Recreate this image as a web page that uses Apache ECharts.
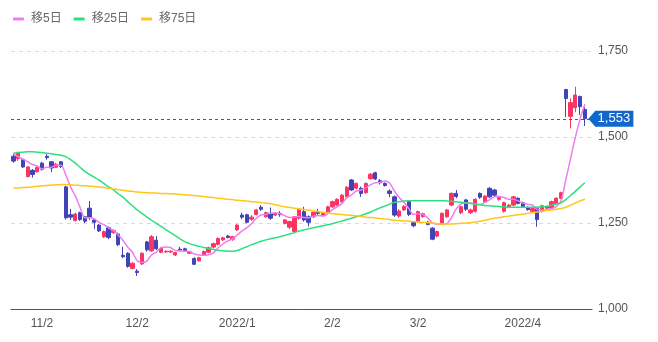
<!DOCTYPE html>
<html>
<head>
<meta charset="utf-8">
<script src="https://cdn.jsdelivr.net/npm/echarts@6.0.0/dist/echarts.min.js"></script>
<style>
  html, body { margin: 0; padding: 0; background: #fff; }
  #chart { width: 658px; height: 342px; }
</style>
</head>
<body>
<div id="chart"></div>
<script>
// Trading days shown on the chart
const dates = [
  '2021/10/25','2021/10/26','2021/10/27','2021/10/28','2021/10/29','2021/11/1','2021/11/2','2021/11/4','2021/11/5','2021/11/8',
  '2021/11/9','2021/11/10','2021/11/11','2021/11/12','2021/11/15','2021/11/16','2021/11/17','2021/11/18','2021/11/19','2021/11/22',
  '2021/11/24','2021/11/25','2021/11/26','2021/11/29','2021/11/30','2021/12/1','2021/12/2','2021/12/3','2021/12/6','2021/12/7',
  '2021/12/8','2021/12/9','2021/12/10','2021/12/13','2021/12/14','2021/12/15','2021/12/16','2021/12/17','2021/12/20','2021/12/21',
  '2021/12/22','2021/12/23','2021/12/24','2021/12/27','2021/12/28','2021/12/29','2021/12/30','2022/1/4','2022/1/5','2022/1/6',
  '2022/1/7','2022/1/11','2022/1/12','2022/1/13','2022/1/14','2022/1/17','2022/1/18','2022/1/19','2022/1/20','2022/1/21',
  '2022/1/24','2022/1/25','2022/1/26','2022/1/27','2022/1/28','2022/1/31','2022/2/1','2022/2/2','2022/2/3','2022/2/4',
  '2022/2/7','2022/2/8','2022/2/9','2022/2/10','2022/2/14','2022/2/15','2022/2/16','2022/2/17','2022/2/18','2022/2/21',
  '2022/2/22','2022/2/24','2022/2/25','2022/2/28','2022/3/1','2022/3/2','2022/3/3','2022/3/4','2022/3/7','2022/3/8',
  '2022/3/9','2022/3/10','2022/3/11','2022/3/14','2022/3/15','2022/3/16','2022/3/17','2022/3/18','2022/3/21','2022/3/22',
  '2022/3/23','2022/3/24','2022/3/25','2022/3/28','2022/3/29','2022/3/30','2022/3/31','2022/4/1','2022/4/4','2022/4/5',
  '2022/4/6','2022/4/7','2022/4/8','2022/4/11','2022/4/12','2022/4/13','2022/4/14','2022/4/15','2022/4/18','2022/4/19',
  '2022/4/20'
];

const openPrices = [
  1444,1437,1434,1385,1403,1399,1424,1444,1428,1412,
  1428,1355,1274,1257,1280,1268,1293,1259,1244,1210,
  1236,1222,1218,1156,1162,1118,1110,1131,1195,1169,
  1200,1165,1166,1166,1157,1174,1175,1162,1147,1140,
  1157,1165,1180,1188,1201,1212,1203,1230,1273,1274,
  1261,1275,1296,1268,1278,1273,1278,1249,1238,1225,
  1264,1283,1268,1268,1283,1273,1280,1297,1302,1312,
  1326,1375,1351,1351,1338,1379,1396,1373,1365,1343,
  1326,1270,1288,1312,1251,1255,1269,1252,1235,1212,
  1249,1268,1302,1336,1280,1317,1280,1284,1336,1312,
  1351,1346,1319,1284,1297,1302,1322,1309,1295,1284,
  1293,1284,1293,1293,1307,1322,1638,1560,1585,1618,
  1580
];

const closePrices = [
  1430,1452,1413,1413,1391,1411,1406,1440,1410,1421,
  1414,1265,1267,1276,1260,1255,1267,1252,1227,1225,
  1208,1228,1187,1152,1124,1133,1106,1162,1172,1210,
  1175,1176,1168,1168,1164,1170,1169,1166,1130,1149,
  1167,1178,1190,1205,1207,1208,1210,1244,1267,1252,
  1267,1288,1290,1280,1264,1278,1274,1259,1254,1268,
  1290,1259,1252,1281,1278,1278,1297,1312,1319,1331,
  1354,1346,1365,1336,1365,1392,1378,1367,1359,1336,
  1273,1285,1298,1275,1242,1283,1277,1246,1203,1225,
  1278,1288,1336,1327,1297,1290,1288,1319,1325,1328,
  1326,1331,1325,1309,1302,1326,1307,1298,1289,1292,
  1260,1300,1297,1312,1322,1338,1612,1600,1622,1588,
  1553
];

const lowPrices = [
  1425,1431,1410,1382,1382,1396,1402,1434,1398,1410,
  1410,1260,1259,1254,1256,1250,1259,1233,1224,1206,
  1203,1218,1183,1148,1120,1115,1096,1128,1167,1166,
  1172,1162,1163,1163,1154,1167,1166,1160,1128,1138,
  1155,1162,1176,1185,1198,1205,1198,1227,1261,1249,
  1256,1272,1285,1265,1259,1270,1268,1246,1232,1220,
  1260,1254,1240,1264,1273,1270,1277,1294,1299,1309,
  1322,1343,1348,1326,1335,1376,1375,1362,1356,1325,
  1268,1265,1285,1270,1238,1250,1265,1243,1200,1208,
  1246,1265,1299,1322,1276,1285,1276,1280,1320,1308,
  1322,1326,1315,1280,1293,1299,1304,1294,1286,1280,
  1239,1280,1290,1290,1304,1319,1558,1525,1572,1564,
  1532
];

const highPrices = [
  1452,1457,1437,1416,1407,1415,1428,1450,1430,1425,
  1430,1358,1291,1280,1283,1270,1314,1262,1247,1228,
  1240,1232,1222,1181,1165,1136,1116,1165,1198,1215,
  1212,1180,1170,1170,1166,1181,1178,1168,1150,1152,
  1170,1181,1193,1208,1210,1215,1213,1247,1280,1277,
  1273,1291,1302,1283,1295,1281,1285,1262,1257,1270,
  1293,1297,1272,1284,1291,1281,1300,1315,1322,1334,
  1357,1378,1368,1356,1368,1395,1399,1378,1368,1348,
  1330,1290,1302,1316,1254,1286,1280,1256,1238,1228,
  1281,1291,1339,1346,1300,1320,1292,1322,1339,1331,
  1354,1349,1329,1312,1305,1329,1325,1312,1298,1296,
  1296,1303,1300,1315,1325,1341,1640,1612,1646,1620,
  1588
];

// Moving averages (5, 25 and 75 trading days)
const ma5 = [
  1451,1443,1436,1428,1420,1416,1407,1412,1412,1418,
  1418,1390,1355,1329,1296,1265,1265,1262,1252,1245,
  1236,1228,1215,1200,1180,1165,1140,1135,1139,1157,
  1165,1179,1180,1179,1170,1169,1168,1167,1160,1157,
  1156,1158,1163,1178,1189,1198,1204,1215,1227,1236,
  1248,1264,1273,1275,1278,1280,1277,1271,1266,1267,
  1269,1266,1265,1270,1272,1270,1277,1289,1297,1307,
  1323,1332,1343,1346,1353,1361,1367,1368,1372,1366,
  1343,1324,1310,1293,1275,1277,1275,1265,1250,1247,
  1246,1248,1266,1291,1305,1308,1308,1304,1304,1310,
  1317,1326,1327,1324,1319,1319,1314,1308,1304,1302,
  1289,1288,1288,1292,1298,1314,1376,1437,1499,1552,
  1595
];

const ma25 = [
  1453,1455,1456,1457,1457,1456,1455,1453,1451,1449,
  1447,1443,1434,1424,1412,1400,1391,1383,1375,1365,
  1355,1346,1335,1325,1312,1300,1288,1278,1268,1258,
  1249,1240,1231,1222,1213,1204,1196,1190,1186,1182,
  1179,1176,1173,1171,1169,1168,1168,1170,1175,1181,
  1187,1192,1197,1201,1204,1207,1210,1214,1218,1222,
  1227,1230,1233,1236,1239,1242,1245,1248,1252,1256,
  1260,1264,1268,1272,1277,1282,1288,1294,1299,1305,
  1310,1312,1314,1315,1315,1315,1315,1315,1315,1315,
  1315,1314,1313,1312,1310,1309,1307,1305,1303,1301,
  1300,1299,1298,1297,1296,1296,1296,1296,1296,1296,
  1296,1297,1299,1302,1305,1309,1318,1330,1342,1355,
  1367
];

const ma75 = [
  1351,1352,1353,1354,1355,1357,1358,1359,1360,1361,
  1362,1362,1361,1360,1359,1358,1357,1356,1355,1353,
  1351,1349,1347,1345,1343,1342,1340,1339,1338,1337,
  1337,1336,1336,1335,1334,1333,1332,1331,1330,1328,
  1327,1325,1324,1322,1321,1319,1318,1316,1315,1314,
  1312,1311,1309,1308,1306,1303,1300,1297,1295,1293,
  1291,1289,1287,1285,1283,1281,1279,1277,1276,1275,
  1273,1272,1271,1269,1267,1266,1265,1263,1262,1260,
  1258,1257,1256,1255,1254,1253,1252,1251,1250,1248,
  1247,1247,1247,1248,1249,1250,1251,1253,1255,1258,
  1261,1264,1266,1268,1270,1272,1274,1276,1278,1280,
  1282,1284,1286,1288,1290,1292,1296,1302,1308,1314,
  1319
];

// Axis labels: which days get a label and what it reads
const tickDates = ['2021/11/2', '2021/12/2', '2022/1/4', '2022/2/2', '2022/3/2', '2022/4/1'];
const tickLabels = ['11/2', '12/2', '2022/1', '2/2', '3/2', '2022/4'];
const priceTicks = { min: 1000, max: 1750, step: 250 };

const seriesNames = ['移5日', '移25日', '移75日'];
const lineColors = ['#ee7cf2', '#2fdf7e', '#ffc719'];
const upColor = '#fb3461';
const downColor = '#4143b8';
const tagColor = '#1167cc';

const FONT = '"Liberation Sans", Arial, "Noto Sans CJK JP", sans-serif';

const candles = dates.map((d, i) => [openPrices[i], closePrices[i], lowPrices[i], highPrices[i]]);
const lastIndex = dates.length - 1;
const lastClose = closePrices[lastIndex];
// one empty slot after the last session leaves room at the right edge
const axisDays = dates.concat(['']);

const fmt = v => Number(v).toLocaleString('en-US');

const chart = echarts.init(document.getElementById('chart'), null, { renderer: 'canvas' });

const maSeries = [ma5, ma25, ma75].map((vals, k) => ({
  name: seriesNames[k],
  type: 'line',
  data: vals,
  smooth: 0.3,
  showSymbol: false,
  symbol: 'none',
  lineStyle: { width: 1.5, color: lineColors[k] },
  itemStyle: { color: lineColors[k] },
  z: 3
}));

chart.setOption({
  animation: false,
  backgroundColor: '#fff',
  textStyle: { fontFamily: FONT },
  legend: {
    data: seriesNames,
    left: 8,
    top: 8,
    icon: 'roundRect',
    itemWidth: 11,
    itemHeight: 3,
    itemGap: 12,
    textStyle: { color: '#666', fontSize: 12, fontFamily: FONT, padding: [0, 0, 0, 2] }
  },
  grid: { left: 11, right: 66, top: 51, bottom: 33, containLabel: false },
  xAxis: {
    type: 'category',
    data: axisDays,
    boundaryGap: true,
    axisLine: { show: true, lineStyle: { color: '#555', width: 1 } },
    axisTick: { show: false },
    splitLine: { show: false },
    axisLabel: {
      color: '#555',
      fontSize: 12,
      fontFamily: FONT,
      margin: 9,
      interval: (idx, val) => tickDates.indexOf(val) >= 0,
      formatter: val => {
        const k = tickDates.indexOf(val);
        return k >= 0 ? tickLabels[k] : '';
      }
    }
  },
  yAxis: {
    type: 'value',
    position: 'right',
    min: priceTicks.min,
    max: priceTicks.max,
    interval: priceTicks.step,
    scale: false,
    axisLine: { show: false },
    axisTick: { show: false },
    splitLine: { show: true, lineStyle: { color: '#d9d9d9', type: [4, 4], width: 1 } },
    axisLabel: { color: '#555', fontSize: 12, fontFamily: FONT, margin: 6, formatter: v => fmt(v) }
  },
  series: [
    {
      name: '株価',
      type: 'candlestick',
      data: candles,
      barWidth: 3.8,
      itemStyle: {
        color: upColor,
        color0: downColor,
        borderColor: upColor,
        borderColor0: downColor,
        borderWidth: 1
      },
      z: 2,
      markLine: {
        silent: true,
        symbol: ['none', 'none'],
        label: { show: false },
        lineStyle: { color: '#3c5f93', type: [3, 3], width: 1 },
        data: [{ yAxis: lastClose }],
        z: 4
      },
      markPoint: {
        silent: true,
        data: [{ coord: [lastIndex, lastClose], value: lastClose }],
        symbol: 'path://M0,8 L7,0 L45,0 L45,16 L7,16 Z',
        symbolSize: [45, 16],
        symbolOffset: [26, 0],
        itemStyle: { color: tagColor },
        label: {
          show: true,
          position: 'inside',
          offset: [3, 0],
          color: '#fff',
          fontSize: 13,
          fontFamily: FONT,
          formatter: p => fmt(p.value)
        },
        z: 6
      }
    }
  ].concat(maSeries)
});
</script>
</body>
</html>
